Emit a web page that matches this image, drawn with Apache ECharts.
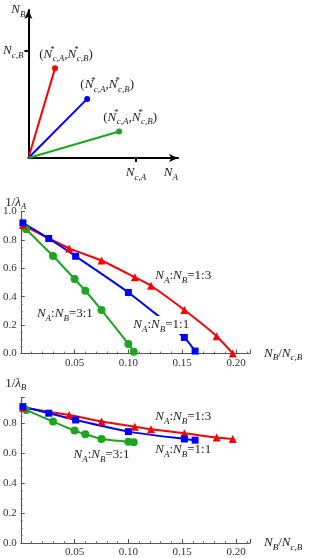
<!DOCTYPE html>
<html><head><meta charset="utf-8">
<script src="https://cdn.jsdelivr.net/npm/echarts@6/dist/echarts.min.js"></script>
<style>html,body{margin:0;padding:0;background:#fff}#c{width:312px;height:558px}</style>
</head><body><div id="c"></div>
<script>
// ---- top panel: vectors (N*_{c,A}, N*_{c,B}) in units of N_{c,A}, N_{c,B}
const vecRed = [0.247, 0.836];
const vecBlue = [0.546, 0.551];
const vecGreen = [0.843, 0.247];

// ---- x values N_B/N_{c,B}
const redX = [0.002, 0.045, 0.075, 0.106, 0.121, 0.152, 0.182, 0.197];
const blueX = [0.002, 0.026, 0.051, 0.100, 0.152, 0.162];
const greenX = [0.002, 0.005, 0.030, 0.050, 0.060, 0.075, 0.100, 0.105];

// ---- 1/lambda_A
const redA = [0.905, 0.740, 0.655, 0.537, 0.477, 0.306, 0.122, 0.0];
const blueA = [0.920, 0.810, 0.685, 0.430, 0.113, 0.017];
const greenA = [0.905, 0.875, 0.687, 0.525, 0.442, 0.306, 0.067, 0.013];

// ---- 1/lambda_B
const redB = [0.904, 0.855, 0.811, 0.777, 0.760, 0.733, 0.704, 0.695];
const blueB = [0.911, 0.867, 0.822, 0.744, 0.695, 0.687];
const greenB = [0.905, 0.889, 0.811, 0.751, 0.727, 0.695, 0.677, 0.673];

const xTicks = [0.05, 0.10, 0.15, 0.20];
const yTicks = [0.0, 0.2, 0.4, 0.6, 0.8, 1.0];

const RED = '#ff0000', BLUE = '#0000ff', GREEN = '#1ea51e';
const SERIF = '"Liberation Serif", "DejaVu Serif", serif';
const TXT = '#222';
const rich = {
  n: {fontFamily: SERIF, fontStyle: 'italic', fontSize: 13, lineHeight: 18, color: TXT},
  t: {fontFamily: SERIF, fontSize: 13, lineHeight: 18, color: TXT},
  sb: {fontFamily: SERIF, fontStyle: 'italic', fontSize: 9, lineHeight: 9, verticalAlign: 'bottom', color: TXT},
  sp: {fontFamily: SERIF, fontSize: 9, lineHeight: 9, verticalAlign: 'top', width: 0.5, color: TXT}
};
const starLabel = '{t|(}{n|N}{sp|*}{sb|c,A}{t|,}{n|N}{sp|*}{sb|c,B}{t|)}';
const ratio = r => '{n|N}{sb|A}{t|:}{n|N}{sb|B}{t|=' + r + '}';
const xName = '{n|N}{sb|B}{t|/}{n|N}{sb|c,B}';

function zip(xs, ys) { return xs.map((x, i) => [x, ys[i]]); }

const tickFont = {fontFamily: SERIF, fontSize: 11, color: '#333'};
function plotX(idx) {
  return {
    gridIndex: idx, type: 'value', min: 0, max: 0.213, interval: 0.05,
    axisLine: {lineStyle: {color: '#555', width: 1}},
    axisTick: {inside: true, length: 4, lineStyle: {color: '#555'}},
    minorTick: {show: true, splitNumber: 5, length: 2, lineStyle: {color: '#777'}},
    splitLine: {show: false},
    axisLabel: Object.assign({margin: 4, showMinLabel: false, showMaxLabel: false,
      formatter: v => xTicks.some(t => Math.abs(t - v) < 1e-9) ? v.toFixed(2) : ''}, tickFont),
    name: xName, nameLocation: 'end', nameGap: 14, nameMoveOverlap: false,
    nameTextStyle: {rich: rich, verticalAlign: 'middle'}
  };
}
function plotY(idx, max, nm, gap) {
  return {
    gridIndex: idx, type: 'value', min: 0, max: max, interval: 0.2,
    axisLine: {lineStyle: {color: '#555', width: 1}},
    axisTick: {inside: true, length: 4, lineStyle: {color: '#555'}},
    minorTick: {show: true, splitNumber: 4, length: 2, lineStyle: {color: '#777'}},
    splitLine: {show: false},
    axisLabel: Object.assign({margin: 4,
      formatter: v => yTicks.some(t => Math.abs(t - v) < 1e-9) ? v.toFixed(1) : ''}, tickFont),
    name: nm, nameLocation: 'end', nameGap: gap, nameMoveOverlap: false,
    nameTextStyle: {rich: rich, align: 'center', padding: [0, 10, 0, 0]}
  };
}
function lineSeries(ax, data, color, sym, size, firstNoSym, marks) {
  const d = data.map((p, i) => (firstNoSym && i === 0) ? {value: p, symbol: 'none'} : p);
  const s = {
    type: 'line', xAxisIndex: ax, yAxisIndex: ax, data: d, color: color,
    symbol: sym, symbolSize: size, showSymbol: true, showAllSymbol: true,
    lineStyle: {width: 2, color: color}, itemStyle: {color: color},
    smooth: 0.2, clip: false, animation: false
  };
  if (marks) {
    s.markPoint = {
      symbol: 'circle', symbolSize: 1, itemStyle: {color: 'rgba(0,0,0,0)'}, animation: false,
      data: marks.map(m => ({coord: m.c, label: Object.assign({show: true, position: 'inside', formatter: m.t, rich: rich}, m.bg ? {backgroundColor: '#fff', padding: [0, 1]} : {})}))
    };
  }
  return s;
}
function vecSeries(end, color, off) {
  return {
    type: 'line', xAxisIndex: 0, yAxisIndex: 0, color: color,
    data: [{value: [0, 0], symbol: 'none'}, {value: end, label: {show: true, position: 'top', distance: 2, offset: off, formatter: starLabel, rich: rich}}],
    symbol: 'circle', symbolSize: 6, showSymbol: true,
    lineStyle: {width: 2, color: color}, itemStyle: {color: color}, animation: false, clip: false
  };
}
const topAxisCommon = {
  type: 'value', min: 0, splitLine: {show: false}, nameMoveOverlap: false,
  axisLine: {lineStyle: {color: '#000', width: 2}, symbol: ['none', 'arrow'], symbolSize: [6, 9]},
  axisTick: {show: true, customValues: [1], length: 4, lineStyle: {color: '#000', width: 2}}
};
const option = {
  backgroundColor: '#fff',
  animation: false,
  grid: [
    {left: 28, top: 10, width: 150, height: 148},
    {left: 18, top: 211.5, width: 232, height: 142},
    {left: 18, top: 397.5, width: 232, height: 145.8}
  ],
  xAxis: [
    Object.assign({}, topAxisCommon, {gridIndex: 0, max: 1.39,
      axisLabel: {customValues: [1], margin: 6, formatter: () => '{n|N}{sb|c,A}', rich: rich},
      name: '{n|N}{sb|A}', nameLocation: 'end', nameGap: 0,
      nameTextStyle: {rich: rich, align: 'right', verticalAlign: 'top', padding: [6, 0, 0, 0]}}),
    plotX(1), plotX(2)
  ],
  yAxis: [
    Object.assign({}, topAxisCommon, {gridIndex: 0, max: 1.38,
      axisLabel: {customValues: [1], margin: 5, formatter: () => '{n|N}{sb|c,B}', rich: rich},
      name: '{n|N}{sb|B}', nameLocation: 'end', nameGap: 0,
      nameTextStyle: {rich: rich, align: 'right', verticalAlign: 'middle', padding: [0, 3, 0, 0]}}),
    plotY(1, 1.0, '{t|1/}{n|λ}{sb|A}', 0),
    plotY(2, 0.972, '{t|1/}{n|λ}{sb|B}', 5)
  ],
  series: [
    vecSeries(vecRed, RED, [11, 0]),
    vecSeries(vecBlue, BLUE, [20, 0]),
    vecSeries(vecGreen, GREEN, [11, 0]),
    lineSeries(1, zip(greenX, greenA), GREEN, 'circle', 8, true),
    lineSeries(1, zip(redX, redA), RED, 'triangle', 8, false),
    lineSeries(1, zip(blueX, blueA), BLUE, 'rect', 7, false, [
      {c: [0.151, 0.546], t: ratio('1:3')},
      {c: [0.1305, 0.201], t: ratio('1:1'), bg: true},
      {c: [0.041, 0.278], t: ratio('3:1')}
    ]),
    lineSeries(2, zip(greenX, greenB), GREEN, 'circle', 8, true),
    lineSeries(2, zip(redX, redB), RED, 'triangle', 8, false),
    lineSeries(2, zip(blueX, blueB), BLUE, 'rect', 7, false, [
      {c: [0.151, 0.842], t: ratio('1:3')},
      {c: [0.151, 0.622], t: ratio('1:1')},
      {c: [0.075, 0.589], t: ratio('3:1')}
    ])
  ]
};
const chart = echarts.init(document.getElementById('c'), null, {renderer: 'canvas'});
chart.setOption(option);
</script></body></html>
